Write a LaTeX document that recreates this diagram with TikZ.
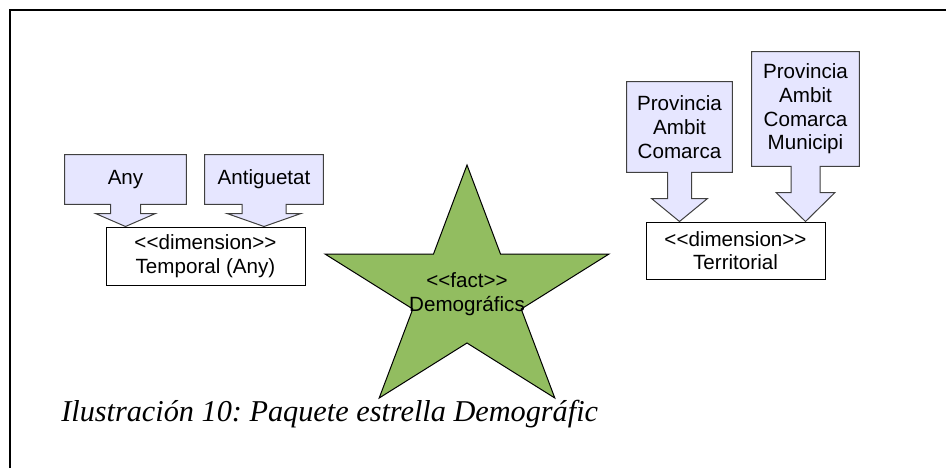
\documentclass[tikz,border=0pt]{standalone}
\usepackage{fontspec}
\setmainfont{Liberation Serif}
\newfontfamily\arialfont{Liberation Sans}
\usetikzlibrary{calc,backgrounds}
\frenchspacing

\definecolor{lavender}{RGB}{230,230,255}
\definecolor{lavenderline}{RGB}{64,64,64}
\definecolor{stargreen}{RGB}{146,189,96}

\tikzset{
  boxtext/.style={font=\arialfont\fontsize{15.45}{17.8}\selectfont, align=center, inner sep=0pt},
  calloutbox/.style={boxtext, draw=none},
  callout/.style={fill=lavender, draw=lavenderline, line width=0.75pt, line join=miter},
  dimbox/.style={boxtext, draw=black, fill=white, line width=0.75pt},
  starshape/.style={fill=stargreen, draw=black, line width=0.75pt, line join=miter},
  frameline/.style={draw=black, line width=1.1pt},
  caption/.style={font=\itshape\fontsize{22.7}{26}\selectfont, inner sep=0pt, anchor=base west},
  % sizes given in px (1px = 0.75pt)
  pxsize/.style 2 args={minimum width={#1*0.75pt}, minimum height={#2*0.75pt}}
}

% Callout: the box node #1 with a down arrow whose tip rests on node #2.
% #3 stem half width, #4 head half width, #5 head height (all in px units).
\newcommand\downcallout[5]{%
  \coordinate (#1-tip) at (#1.south |- #2.north);
  \begin{pgfonlayer}{background}
  \path[callout] (#1.north west) -- (#1.north east) -- (#1.south east)
    -- ($(#1.south)+(#3,0)$) -- ($(#1-tip)+(#3,-#5)$) -- ($(#1-tip)+(#4,-#5)$)
    -- (#1-tip) -- ($(#1-tip)+(-#4,-#5)$) -- ($(#1-tip)+(-#3,-#5)$)
    -- ($(#1.south)+(-#3,0)$) -- (#1.south west) -- cycle;
  \end{pgfonlayer}}

\begin{document}
\begin{tikzpicture}[x=0.75pt,y=-0.75pt]
  \useasboundingbox (0,0) rectangle (946,468);
  \begin{pgfonlayer}{background}
    \fill[white] (0,0) rectangle (946,468);
  \end{pgfonlayer}

  % page frame
  \draw[frameline] (10,468) -- (10,10) -- (946,10);

  % dimension boxes
  \node[dimbox, pxsize={199}{58}] (temporal) at (205.5,256)
    {<{}<dimension>{}>\\Temporal (Any)};
  \node[dimbox, pxsize={179}{57}] (territorial) at (735.5,250.5)
    {<{}<dimension>{}>\\Territorial};

  % attribute callouts
  \node[calloutbox, pxsize={121}{49}] (any) at (125.5,179.5) {Any};
  \node[calloutbox, pxsize={118}{49}] (antig) at (264,179.5) {Antiguetat};
  \node[calloutbox, pxsize={105}{90}] (prov1) at (679.5,127)
    {Provincia\\Ambit\\Comarca};
  \node[calloutbox, pxsize={107}{114}] (prov2) at (805.5,109)
    {Provincia\\Ambit\\Comarca\\Municipi};

  \downcallout{any}{temporal}{15}{30}{13}
  \downcallout{antig}{temporal}{22}{37}{13}
  \downcallout{prov1}{territorial}{12}{28}{23}
  \downcallout{prov2}{territorial}{14.5}{29.5}{29}

  % fact star
  \draw[starshape] (467,165) -- (500.5,254) -- (609,254) -- (521.2,309)
    -- (554.8,398) -- (467,343) -- (379.2,398) -- (412.8,309)
    -- (325,254) -- (433.5,254) -- cycle;
  \node[boxtext] (fact) at (467,294) {<{}<fact>{}>\\Demográfics};

  % caption
  \node[caption] (cap) at (61,421) {Ilustración 10: Paquete estrella Demográfic};
\end{tikzpicture}
\end{document}
